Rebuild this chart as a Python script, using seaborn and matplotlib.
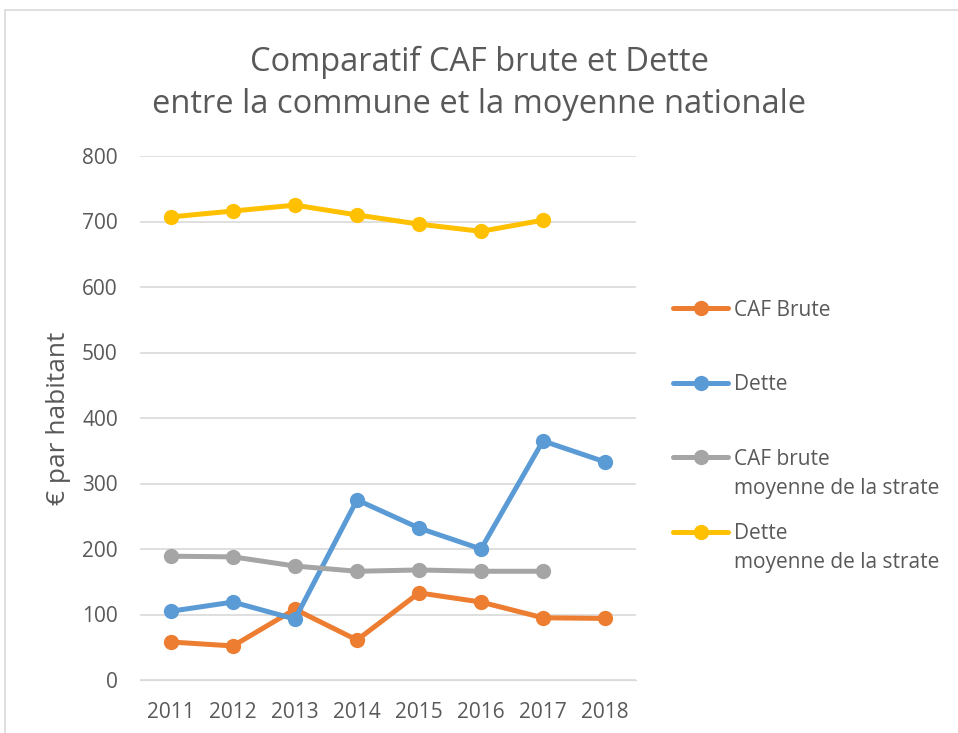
import pandas as pd
import matplotlib.pyplot as plt
import seaborn as sns
from matplotlib.patches import Rectangle

years = [2011, 2012, 2013, 2014, 2015, 2016, 2017, 2018]
caf_brute = [58, 52, 108, 61, 133, 119, 95, 94]
dette = [105, 119, 93, 275, 232, 200, 365, 333]
caf_strate = [189, 188, 174, 166, 168, 166, 166, None]
dette_strate = [707, 716, 725, 710, 696, 685, 702, None]

series_names = ['CAF Brute', 'Dette', 'CAF brute\nmoyenne de la strate',
                'Dette\nmoyenne de la strate']
series_values = [caf_brute, dette, caf_strate, dette_strate]
colors = ['#ED7D31', '#5B9BD5', '#A5A5A5', '#FFC000']

rows = []
for name, vals in zip(series_names, series_values):
    for i, v in enumerate(vals):
        if v is not None:
            rows.append({'pos': i, 'value': v, 'serie': name})
df = pd.DataFrame(rows)

sns.set_style('white')
plt.rcParams['font.family'] = ['Open Sans', 'DejaVu Sans']
text_color = '#595959'

fig = plt.figure(figsize=(9.58, 7.33), dpi=100)
ax = fig.add_axes([140 / 958, 1 - 680 / 733, 496 / 958, 524 / 733])

sns.lineplot(data=df, x='pos', y='value', hue='serie', hue_order=series_names,
             palette=colors, marker='o', markersize=11, markeredgewidth=0,
             linewidth=3.6, ax=ax, sort=False)

ax.set_xlim(-0.5, len(years) - 0.5)
ax.set_ylim(0, 800)
ax.set_xticks(range(len(years)))
ax.set_xticklabels([str(y) for y in years])
ax.set_yticks(range(0, 801, 100))
ax.grid(axis='y', color='#D9D9D9', linewidth=1.2)
ax.set_axisbelow(True)
for s in ['top', 'right', 'left']:
    ax.spines[s].set_visible(False)
ax.spines['bottom'].set_color('#D9D9D9')
ax.tick_params(axis='both', length=0, labelsize=15, colors=text_color, pad=16)
ax.set_xlabel('')
ax.set_ylabel('€ par habitant', fontsize=19, color=text_color, labelpad=8)

fig.suptitle('Comparatif CAF brute et Dette\nentre la commune et la moyenne nationale',
             y=0.937, va='top', fontsize=23.5, color=text_color, linespacing=1.36)

# legend: first line next to the handle, second line below it (as in Excel)
leg = ax.legend(loc='upper left', bbox_to_anchor=(1.058, 0.742), frameon=False,
                fontsize=15, labelspacing=2.57, handlelength=2.65,
                handletextpad=0.25, borderaxespad=0)
second_lines = []
for t in leg.get_texts():
    t.set_color(text_color)
    parts = t.get_text().split('\n')
    if len(parts) > 1:
        t.set_text(parts[0])
        second_lines.append((t, parts[1]))

fig.canvas.draw()
W, H = fig.bbox.width, fig.bbox.height
for t, txt in second_lines:
    bb = t.get_window_extent()
    fig.text(bb.x0 / W, (bb.y0 - 29) / H, txt, ha='left', va='bottom',
             fontsize=15, color=text_color)

fig.patches.append(Rectangle((5 / 958, -0.01), 1.0, 1 - 10 / 733 + 0.01,
                             transform=fig.transFigure, fill=False,
                             edgecolor='#D9D9D9', linewidth=1.2))

fig.savefig('out.png', dpi=100)
